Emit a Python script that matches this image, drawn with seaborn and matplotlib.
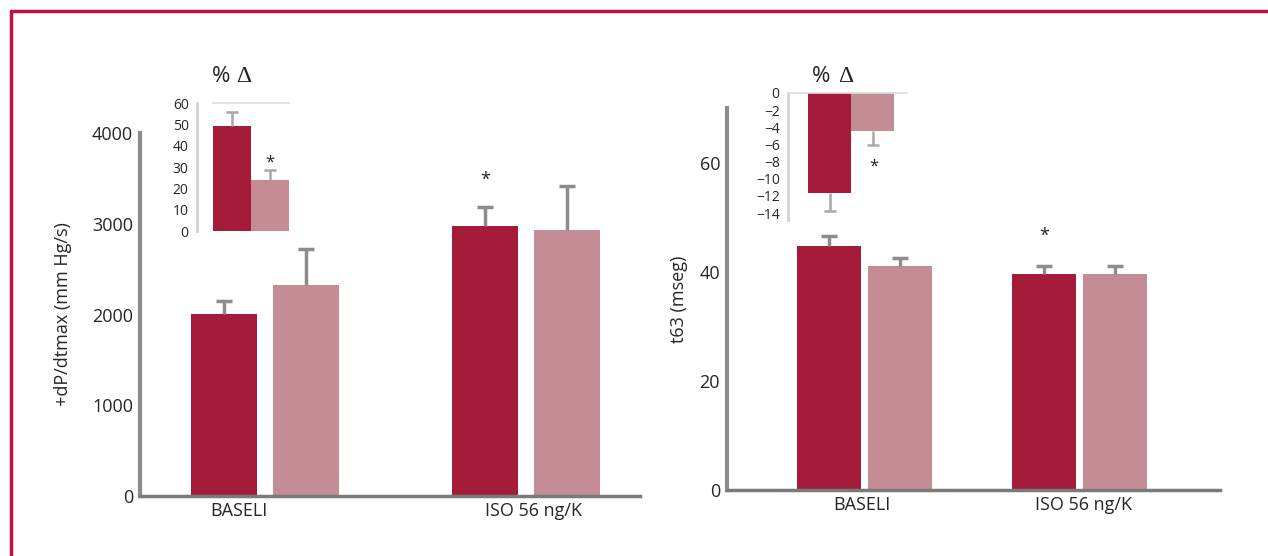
import matplotlib
matplotlib.use("Agg")
import matplotlib.pyplot as plt
import seaborn as sns
import pandas as pd
import numpy as np

# ---- data ----
groups = ["BASELI", "ISO 56 ng/K"]
series_names = ["Grupo A", "Grupo B"]
dpdt_dark = [2010, 2970]
dpdt_light = [2330, 2930]
dpdt_err_dark = [140, 220]
dpdt_err_light = [390, 490]
t63_dark = [44.7, 39.5]
t63_light = [41.0, 39.5]
t63_err_dark = [1.8, 1.5]
t63_err_light = [1.5, 1.5]
inset_left_vals = [49, 24]
inset_left_err = [7, 4.5]
inset_right_vals = [-11.7, -4.4]
inset_right_err = [2.0, 1.7]
left_yticks = [0, 1000, 2000, 3000, 4000]
right_yticks = [0, 20, 40, 60]
inset_left_ticks = [0, 10, 20, 30, 40, 50, 60]
inset_right_ticks = [0, -2, -4, -6, -8, -10, -12, -14]

DARK = "#A51C3A"
LIGHT = "#C48C94"
GRAY = "#8c8c8c"
BORDER = "#C0103F"

sns.set_style("white")
plt.rcParams["font.family"] = ["Open Sans", "DejaVu Sans"]
plt.rcParams["text.color"] = "#222222"

fig = plt.figure(figsize=(12.68, 5.56), dpi=100)

def px(x0, y_top, x1, y_bot):
    W, H = 1268, 556
    return [x0 / W, 1 - y_bot / H, (x1 - x0) / W, (y_bot - y_top) / H]

def up_errors(ax, xs, ys, err, color, lw, ms):
    xs = np.asarray(xs, float)
    ys = np.asarray(ys, float)
    tops = ys + np.asarray(err, float)
    ax.vlines(xs, ys, tops, color=color, lw=lw, zorder=1)
    ax.plot(xs, tops, ls="none", marker="_", ms=ms, mew=lw, color=color, zorder=1)

def main_chart(rect, dark, light, edark, elight, ylim, yticks, xlim, width, gap, ylabel, pad, label_shift):
    ax = fig.add_axes(rect)
    df = pd.DataFrame({
        "grupo": groups * 2,
        "serie": [series_names[0]] * 2 + [series_names[1]] * 2,
        "valor": list(dark) + list(light),
    })
    sns.barplot(data=df, x="grupo", y="valor", hue="serie", ax=ax,
                palette=[DARK, LIGHT], width=width, gap=gap, errorbar=None,
                legend=False, linewidth=0, saturation=1)
    for cont, err in zip(ax.containers, [edark, elight]):
        xs = [p.get_x() + p.get_width() / 2 for p in cont]
        ys = [p.get_height() for p in cont]
        up_errors(ax, xs, ys, err, GRAY, 2.5, 12)
    ax.set_ylim(*ylim)
    ax.set_xlim(*xlim)
    ax.set_yticks(yticks)
    ax.set_xticks([i + s for i, s in enumerate(label_shift)], groups)
    ax.set_xlabel("")
    ax.set_ylabel(ylabel, fontsize=13, labelpad=pad)
    for s in ["top", "right"]:
        ax.spines[s].set_visible(False)
    ax.spines["left"].set_color(GRAY)
    ax.spines["left"].set_linewidth(3)
    ax.spines["bottom"].set_color("#7a7a7a")
    ax.spines["bottom"].set_linewidth(2.5)
    ax.tick_params(axis="y", length=4, width=1, color="#bbbbbb", labelsize=13, pad=1)
    ax.tick_params(axis="x", length=0, labelsize=13, pad=4)
    return ax

# left main chart
axL = main_chart(px(140, 133, 640, 496), dpdt_dark, dpdt_light, dpdt_err_dark, dpdt_err_light,
                 (0, 4000), left_yticks, (-0.479, 1.437), 0.63, 0.2,
                 "+dP/dtmax (mm Hg/s)", 14, [-0.1, 0.027])
axL.text(axL.containers[0][1].get_x() + axL.containers[0][1].get_width() / 2, 3480, "*",
         ha="center", va="center", fontsize=13)

# right main chart
axR = main_chart(px(727, 108, 1220, 490), t63_dark, t63_light, t63_err_dark, t63_err_light,
                 (0, 70), right_yticks, (-0.64, 1.653), 0.66, 0.1,
                 "t63 (mseg)", 8, [-0.012, 0.016])
axR.text(axR.containers[0][1].get_x() + axR.containers[0][1].get_width() / 2, 46.5, "*",
         ha="center", va="center", fontsize=13)

def inset(rect, vals, err, ylim, yticks, xlim, down, star_xy):
    ax = fig.add_axes(rect)
    df = pd.DataFrame({"serie": series_names, "valor": vals})
    sns.barplot(data=df, x="serie", y="valor", hue="serie", ax=ax,
                palette=[DARK, LIGHT], width=1.0, errorbar=None, legend=False,
                linewidth=0, saturation=1)
    xs = np.array([p.get_x() + p.get_width() / 2 for c in ax.containers for p in c])
    ys = np.array([p.get_height() for c in ax.containers for p in c])
    e = np.asarray(err, float)
    if down:
        up_errors(ax, xs, ys, -e, "#a8a8a8", 1.8, 8)
    else:
        up_errors(ax, xs, ys, e, "#a8a8a8", 1.8, 8)
    ax.set_ylim(*ylim)
    ax.set_xlim(*xlim)
    ax.set_yticks(yticks)
    ax.set_xticks([])
    ax.set_xlabel("")
    ax.set_ylabel("")
    for s in ["right", "bottom"]:
        ax.spines[s].set_visible(False)
    ax.spines["top"].set_visible(True)
    ax.spines["top"].set_color("#dddddd")
    ax.spines["top"].set_linewidth(1.2)
    ax.spines["left"].set_color("#d4d4d4")
    ax.spines["left"].set_linewidth(2)
    ax.tick_params(axis="y", length=0, labelsize=10, pad=6)
    ax.patch.set_alpha(0)
    ax.text(star_xy[0], star_xy[1], "*", ha="center", va="center", fontsize=12)
    return ax

axIL = inset(px(197, 103, 292, 231), inset_left_vals, inset_left_err,
             (0, 60), inset_left_ticks, (-0.92, 1.58), False, (1.0, 32))
axIL.spines["top"].set_bounds(-0.5, 1.5)
axIR = inset(px(788, 93, 907, 220), inset_right_vals, inset_right_err,
             (-14.8, 0), inset_right_ticks, (-0.965, 1.8), True, (1.03, -8.6))

for xp, xd in [(221, 244), (821, 846)]:
    fig.text(xp / 1268, 1 - 76 / 556, "%", ha="center", va="center", fontsize=16)
    fig.text(xd / 1268, 1 - 76 / 556, "Δ", ha="center", va="center", fontsize=17,
             family=["Liberation Serif", "DejaVu Serif"])

# decorative frame lines (left and top)
fig.add_artist(plt.Line2D([10.5 / 1268, 10.5 / 1268], [0, 1 - 11 / 556],
                          transform=fig.transFigure, color=BORDER, lw=2.5))
fig.add_artist(plt.Line2D([10.5 / 1268, 1], [1 - 11 / 556, 1 - 11 / 556],
                          transform=fig.transFigure, color=BORDER, lw=2.5))

fig.savefig("out.png", dpi=100)
